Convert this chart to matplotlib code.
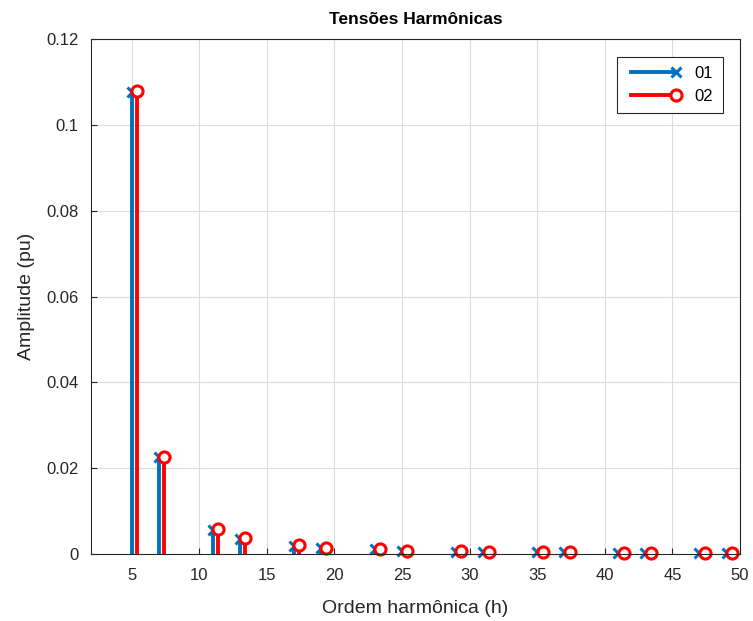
import numpy as np
import matplotlib.pyplot as plt
from matplotlib.lines import Line2D
from matplotlib.legend_handler import HandlerLine2D

plt.rcParams['font.family'] = ['Liberation Sans', 'DejaVu Sans']

# harmonic orders and amplitudes (pu) for the two measurements
ORDERS = [5, 7, 11, 13, 17, 19, 23, 25, 29, 31, 35, 37, 41, 43, 47, 49]
AMP_01 = [0.1078, 0.0226, 0.0055, 0.0035, 0.0018, 0.0014, 0.0011, 0.0008,
          0.0005, 0.0005, 0.0005, 0.0005, 0.0003, 0.0003, 0.0003, 0.0003]
AMP_02 = [0.1080, 0.0227, 0.0058, 0.0037, 0.0020, 0.0015, 0.0012, 0.0008,
          0.0006, 0.0005, 0.0005, 0.0005, 0.0003, 0.0003, 0.0003, 0.0003]
LABELS = ["01", "02"]

BLUE = "#0072BD"
RED = "#FF0000"
OFFSET = 0.4


class EndMarkerHandler(HandlerLine2D):
    """Legend line with the marker only at its right end (like MATLAB stem)"""

    def create_artists(self, legend, orig_handle, xdescent, ydescent,
                       width, height, fontsize, trans):
        artists = super().create_artists(legend, orig_handle, xdescent, ydescent,
                                         width, height, fontsize, trans)
        for a in artists:
            n = len(a.get_xdata())
            a.set_markevery([n - 1])
        return artists


fig = plt.figure(figsize=(7.53, 6.21), dpi=100)
ax = fig.add_axes([0.1208, 0.1079, 0.862, 0.829])

x = np.array(ORDERS, dtype=float)

# series 01
ml, sl, bl = ax.stem(x, AMP_01, basefmt=" ")
plt.setp(sl, color=BLUE, linewidth=2.8)
plt.setp(ml, marker="x", color=BLUE, markersize=7, markeredgewidth=2.2,
         clip_on=False)
bl.set_visible(False)

# series 02
ml2, sl2, bl2 = ax.stem(x + OFFSET, AMP_02, basefmt=" ")
plt.setp(sl2, color=RED, linewidth=2.8)
plt.setp(ml2, marker="o", markerfacecolor="white", markeredgecolor=RED,
         markersize=8, markeredgewidth=2.2, clip_on=False)
bl2.set_visible(False)

ax.set_xlim(2, 50)
ax.set_ylim(0, 0.12)
ax.set_xticks(np.arange(5, 51, 5))
ax.set_yticks([0, 0.02, 0.04, 0.06, 0.08, 0.1, 0.12])
ax.set_yticklabels(["0", "0.02", "0.04", "0.06", "0.08", "0.1", "0.12"])
ax.grid(True, color="#dcdcdc", linewidth=0.8)
ax.set_axisbelow(True)
ax.tick_params(direction="in", labelsize=12, colors="#262626", length=4)
ax.tick_params(axis="x", pad=10)
ax.tick_params(axis="y", pad=9)
for s in ax.spines.values():
    s.set_color("#262626")
    s.set_linewidth(0.8)

ax.set_title("Tensões Harmônicas", fontsize=12.5, fontweight="bold",
             color="#000000", pad=11)
ax.set_xlabel("Ordem harmônica (h)", fontsize=14, color="#262626", labelpad=12)
ax.set_ylabel("Amplitude (pu)", fontsize=14, color="#262626", labelpad=8)

# legend proxies
h1 = Line2D([0, 1], [0, 0], color=BLUE, linewidth=2.8, marker="x",
            markersize=7, markeredgewidth=2.2)
h2 = Line2D([0, 1], [0, 0], color=RED, linewidth=2.8, marker="o",
            markerfacecolor="white", markeredgecolor=RED, markersize=8,
            markeredgewidth=2.2)
leg = ax.legend([h1, h2], LABELS, loc="upper right", numpoints=2,
                handler_map={Line2D: EndMarkerHandler(numpoints=2)},
                fontsize=12, fancybox=False, framealpha=1,
                handlelength=3.3, borderaxespad=1.05, borderpad=0.55)
leg.get_frame().set_edgecolor("#262626")
leg.get_frame().set_linewidth(0.8)

plt.savefig("out.png", dpi=100)
